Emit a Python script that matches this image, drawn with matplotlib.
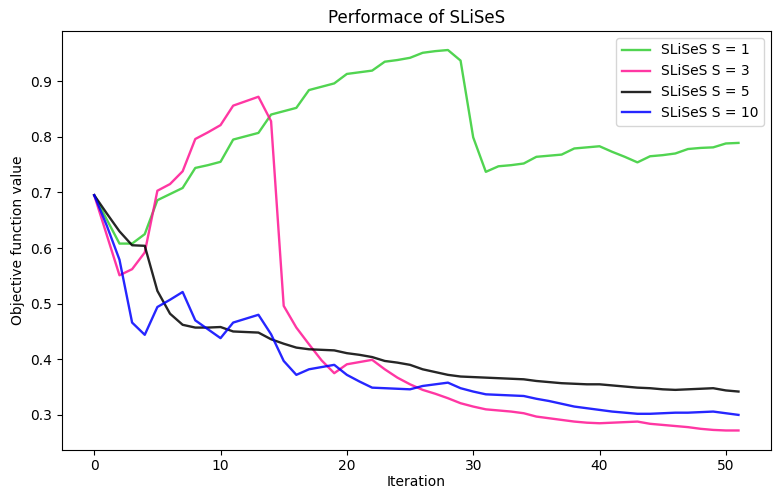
import matplotlib
matplotlib.use("Agg")
import matplotlib.pyplot as plt
import numpy as np

iterations = list(range(52))

s1 = [0.695, 0.651, 0.608, 0.608, 0.625, 0.686, 0.697, 0.708, 0.744, 0.749,
      0.755, 0.795, 0.801, 0.807, 0.840, 0.846, 0.852, 0.884, 0.890, 0.896,
      0.913, 0.916, 0.919, 0.935, 0.938, 0.942, 0.951, 0.954, 0.956, 0.937,
      0.799, 0.737, 0.747, 0.749, 0.752, 0.764, 0.766, 0.768, 0.779, 0.781,
      0.783, 0.773, 0.764, 0.754, 0.765, 0.767, 0.770, 0.778, 0.780, 0.781,
      0.788, 0.789]

s3 = [0.695, 0.623, 0.551, 0.562, 0.592, 0.703, 0.715, 0.738, 0.796, 0.808,
      0.821, 0.856, 0.864, 0.872, 0.828, 0.496, 0.457, 0.427, 0.398, 0.375,
      0.391, 0.395, 0.399, 0.382, 0.367, 0.355, 0.345, 0.338, 0.330, 0.321,
      0.315, 0.310, 0.308, 0.306, 0.303, 0.297, 0.294, 0.291, 0.288, 0.286,
      0.285, 0.286, 0.287, 0.288, 0.284, 0.282, 0.280, 0.278, 0.275, 0.273,
      0.272, 0.272]

s5 = [0.695, 0.662, 0.630, 0.605, 0.604, 0.523, 0.482, 0.462, 0.457, 0.457,
      0.458, 0.450, 0.449, 0.448, 0.436, 0.428, 0.421, 0.418, 0.417, 0.416,
      0.411, 0.408, 0.404, 0.397, 0.394, 0.390, 0.382, 0.377, 0.372, 0.369,
      0.368, 0.367, 0.366, 0.365, 0.364, 0.361, 0.359, 0.357, 0.356, 0.355,
      0.355, 0.353, 0.351, 0.349, 0.348, 0.346, 0.345, 0.346, 0.347, 0.348,
      0.344, 0.342]

s10 = [0.695, 0.640, 0.579, 0.466, 0.444, 0.494, 0.507, 0.521, 0.470, 0.454,
       0.438, 0.466, 0.473, 0.480, 0.445, 0.397, 0.372, 0.382, 0.386, 0.390,
       0.372, 0.360, 0.349, 0.348, 0.347, 0.346, 0.352, 0.355, 0.358, 0.348,
       0.342, 0.337, 0.336, 0.335, 0.334, 0.329, 0.325, 0.320, 0.315, 0.312,
       0.309, 0.306, 0.304, 0.302, 0.302, 0.303, 0.304, 0.304, 0.305, 0.306,
       0.303, 0.300]

labels = ["SLiSeS S = 1", "SLiSeS S = 3", "SLiSeS S = 5", "SLiSeS S = 10"]
colors = ["limegreen", "deeppink", "black", "blue"]

fig = plt.figure(figsize=(7.76, 4.91), dpi=100)
ax = fig.add_axes([62 / 776, 1 - 449.5 / 491, (770.7 - 62) / 776, (449.5 - 31) / 491])
for ys, lab, c in zip([s1, s3, s5, s10], labels, colors):
    ax.plot(iterations, ys, color=c, alpha=0.85, linewidth=1.7, label=lab)

ax.set_title("Performace of SLiSeS")
ax.set_xlabel("Iteration", labelpad=1.5)
ax.set_ylabel("Objective function value")
ax.legend(loc="upper right")
fig.savefig("out.png", dpi=100)
